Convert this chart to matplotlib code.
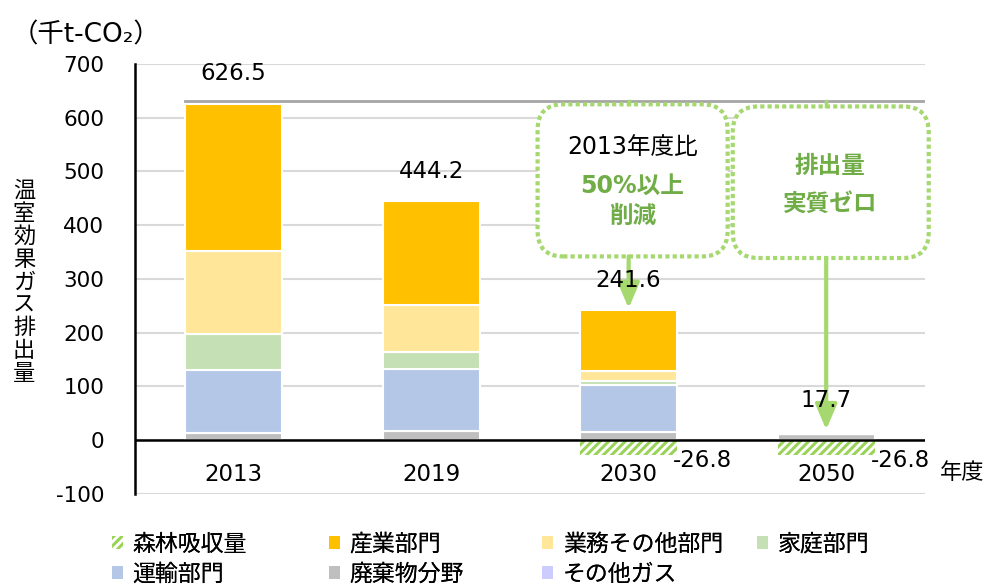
import numpy as np
import matplotlib.pyplot as plt
from matplotlib.patches import Patch, FancyBboxPatch

plt.rcParams['font.family'] = ['DejaVu Sans', 'Noto Sans CJK JP']
plt.rcParams['hatch.linewidth'] = 2.2
plt.rcParams['axes.unicode_minus'] = False

# data (千t-CO2)
years = ['2013', '2019', '2030', '2050']
waste = [14.0, 17.3, 15.5, 11.0]        # 廃棄物分野
other_gas = [0.0, 0.0, 0.0, 0.0]        # その他ガス
transport = [117.0, 116.0, 86.5, 0.0]   # 運輸部門
household = [66.0, 31.0, 9.0, 0.0]      # 家庭部門
business = [155.0, 88.0, 18.5, 0.0]     # 業務その他部門
industry = [274.5, 191.9, 112.1, 0.0]   # 産業部門
forest = [0.0, 0.0, -26.8, -26.8]       # 森林吸収量
totals = [626.5, 444.2, 241.6, 17.7]

series = [
    ('廃棄物分野', waste, '#BFBFBF'),
    ('その他ガス', other_gas, '#CCCCFF'),
    ('運輸部門', transport, '#B4C7E7'),
    ('家庭部門', household, '#C5E0B4'),
    ('業務その他部門', business, '#FFE699'),
    ('産業部門', industry, '#FFC000'),
]
forest_col = '#9BD35A'
call_col = '#A5D86E'
text_green = '#70AD47'

fig = plt.figure(figsize=(9.84, 5.85), dpi=100)
ax = fig.add_axes([0.137, 0.1556, 0.803, 0.735])
x = np.arange(len(years))
w = 0.49

bottom = np.zeros(len(years))
for name, vals, col in series:
    ax.bar(x, vals, w, bottom=bottom, color=col, edgecolor='white', lw=1.5, zorder=2)
    bottom += np.array(vals)
ax.bar(x, forest, w, color='white', edgecolor=forest_col, hatch='////', lw=0, zorder=2)

ax.set_xlim(-0.5, 3.5)
ax.set_ylim(-100, 700)
ax.set_yticks(range(-100, 701, 100))
ax.set_xticks([])
ax.tick_params(axis='y', length=0, pad=22, labelsize=15.5)
ax.yaxis.grid(True, color='#D9D9D9', lw=1.5)
ax.set_axisbelow(True)
for s in ['top', 'right', 'bottom']:
    ax.spines[s].set_visible(False)
ax.spines['left'].set_linewidth(1.8)
ax.axhline(0, color='black', lw=1.8, zorder=3)

# reference line at the 2013 level
ax.plot([x[0] - w / 2, 3.5], [totals[0] + 5, totals[0] + 5], color='#A6A6A6', lw=2, zorder=3)

for i, t in enumerate(totals):
    ax.text(x[i], t + 56, f'{t}', ha='center', va='center', fontsize=16.5, zorder=6)
    ax.text(x[i], -63, years[i], ha='center', va='center', fontsize=16.5)
for i, f in enumerate(forest):
    if f < 0:
        ax.text(x[i] + w / 2 - 0.02, -37, f'{f}', ha='left', va='center', fontsize=16.5)
ax.text(3.69, -60, '年度', ha='center', va='center', fontsize=16, clip_on=False)

# callout boxes
pos = ax.get_position()
px_x = pos.width * fig.get_figwidth() * fig.dpi / 4
px_y = pos.height * fig.get_figheight() * fig.dpi / 800
asp = px_x / px_y
for (x0, x1, y0, y1) in [(1.539, 2.501, 342, 625), (2.527, 3.519, 339, 621)]:
    box = FancyBboxPatch((x0, y0), x1 - x0, y1 - y0,
                         boxstyle='round,pad=0,rounding_size=0.13',
                         mutation_aspect=asp, fc='white', ec=call_col,
                         lw=3, ls=(0, (1, 0.75)), zorder=4, clip_on=False)
    ax.add_patch(box)
ax.plot([2, 2], [totals[0] + 5, 625], color=call_col, lw=2.5, zorder=4)
ax.plot([3, 3], [totals[0] + 5, 621], color=call_col, lw=2.5, zorder=4)

ax.annotate('', xy=(2, totals[2] + 4), xytext=(2, 342),
            arrowprops=dict(arrowstyle='-|>,head_length=0.7,head_width=0.3',
                            color=call_col, lw=3, mutation_scale=22, shrinkA=0, shrinkB=0),
            zorder=4)
ax.annotate('', xy=(3, totals[3] + 2), xytext=(3, 339),
            arrowprops=dict(arrowstyle='-|>,head_length=0.7,head_width=0.3',
                            color=call_col, lw=3, mutation_scale=22, shrinkA=0, shrinkB=0),
            zorder=4)

ax.text(2.02, 545, '2013年度比', ha='center', va='center', fontsize=17, zorder=5)
ax.text(2.02, 473, '50%以上', ha='center', va='center', fontsize=17,
        color=text_green, weight='bold', zorder=5)
ax.text(2.02, 417, '削減', ha='center', va='center', fontsize=17,
        color=text_green, weight='bold', zorder=5)
ax.text(3.02, 510, '排出量', ha='center', va='center', fontsize=17,
        color=text_green, weight='bold', zorder=5)
ax.text(3.02, 439, '実質ゼロ', ha='center', va='center', fontsize=17,
        color=text_green, weight='bold', zorder=5)

fig.text(0.012, 0.940, '（千t-CO₂）', ha='left', va='center', fontsize=19)
fig.text(0.0245, 0.518, '\n'.join('温室効果ガス排出量'), ha='center', va='center',
         fontsize=16, linespacing=0.99, family=['Noto Sans CJK JP'])

# legend, laid out in four columns like the reference
colors = {name: col for name, vals, col in series}
def patch(name):
    if name == '森林吸収量':
        return Patch(facecolor='white', edgecolor=forest_col, hatch='////', lw=0, label=name)
    return Patch(facecolor=colors[name], edgecolor='none', label=name)

columns = [['森林吸収量', '運輸部門'], ['産業部門', '廃棄物分野'],
           ['業務その他部門', 'その他ガス'], ['家庭部門']]
col_x = [112, 329, 542, 757]
for names, cx in zip(columns, col_x):
    leg = fig.legend(handles=[patch(n) for n in names], loc='upper left',
                     bbox_to_anchor=(cx / 984, 1 - 533 / 585), frameon=False,
                     handlelength=0.5, handleheight=0.5,
                     handletextpad=0.4, labelspacing=0.3, borderpad=0,
                     borderaxespad=0, prop={'family': ['Noto Sans CJK JP'], 'size': 16.5})
    fig.add_artist(leg)

fig.savefig('out.png', dpi=100)
